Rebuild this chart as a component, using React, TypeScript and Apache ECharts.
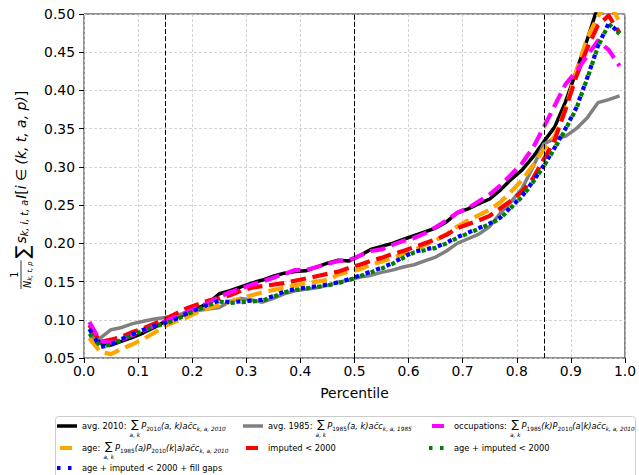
import React, { useEffect, useRef } from 'react';
import * as echarts from 'echarts';

const percentiles = [0.01, 0.03, 0.05, 0.07, 0.09, 0.11, 0.13, 0.15, 0.17, 0.19, 0.21, 0.23, 0.25, 0.27, 0.29, 0.31, 0.33, 0.35, 0.37, 0.39, 0.41, 0.43, 0.45, 0.47, 0.49, 0.51, 0.53, 0.55, 0.57, 0.59, 0.61, 0.63, 0.65, 0.67, 0.69, 0.71, 0.73, 0.75, 0.77, 0.79, 0.81, 0.83, 0.85, 0.87, 0.89, 0.91, 0.93, 0.95, 0.97, 0.99];

const avg2010 = [0.093, 0.070, 0.067, 0.072, 0.077, 0.083, 0.090, 0.098, 0.103, 0.108, 0.115, 0.122, 0.134, 0.138, 0.143, 0.148, 0.152, 0.157, 0.161, 0.163, 0.164, 0.169, 0.174, 0.178, 0.177, 0.184, 0.192, 0.196, 0.200, 0.205, 0.210, 0.215, 0.220, 0.228, 0.240, 0.245, 0.252, 0.258, 0.270, 0.284, 0.296, 0.313, 0.333, 0.352, 0.385, 0.425, 0.466, 0.510, 0.540, 0.560];
const avg1985 = [0.077, 0.076, 0.087, 0.090, 0.095, 0.098, 0.101, 0.103, 0.106, 0.109, 0.112, 0.114, 0.116, 0.124, 0.128, 0.126, 0.123, 0.128, 0.134, 0.138, 0.140, 0.142, 0.145, 0.149, 0.152, 0.156, 0.158, 0.162, 0.165, 0.169, 0.172, 0.177, 0.182, 0.190, 0.200, 0.206, 0.212, 0.222, 0.240, 0.255, 0.272, 0.300, 0.330, 0.337, 0.340, 0.350, 0.364, 0.384, 0.388, 0.393];
const occupations = [0.097, 0.072, 0.070, 0.074, 0.080, 0.086, 0.092, 0.098, 0.104, 0.110, 0.116, 0.122, 0.130, 0.136, 0.141, 0.146, 0.150, 0.155, 0.160, 0.165, 0.165, 0.169, 0.173, 0.177, 0.178, 0.184, 0.190, 0.192, 0.198, 0.203, 0.207, 0.213, 0.221, 0.230, 0.240, 0.246, 0.255, 0.264, 0.276, 0.290, 0.305, 0.325, 0.352, 0.380, 0.408, 0.425, 0.445, 0.465, 0.453, 0.432];
const age = [0.076, 0.058, 0.055, 0.062, 0.068, 0.075, 0.083, 0.092, 0.098, 0.103, 0.110, 0.115, 0.119, 0.124, 0.128, 0.132, 0.136, 0.139, 0.142, 0.145, 0.148, 0.150, 0.152, 0.159, 0.163, 0.166, 0.172, 0.176, 0.181, 0.186, 0.191, 0.198, 0.204, 0.212, 0.222, 0.230, 0.237, 0.244, 0.254, 0.268, 0.283, 0.302, 0.323, 0.340, 0.375, 0.425, 0.468, 0.497, 0.515, 0.490];
const imputed = [0.093, 0.071, 0.074, 0.078, 0.084, 0.089, 0.095, 0.101, 0.108, 0.115, 0.120, 0.125, 0.128, 0.132, 0.138, 0.142, 0.144, 0.146, 0.148, 0.151, 0.154, 0.157, 0.160, 0.163, 0.168, 0.172, 0.177, 0.181, 0.186, 0.190, 0.195, 0.200, 0.205, 0.211, 0.220, 0.225, 0.230, 0.236, 0.246, 0.256, 0.268, 0.285, 0.310, 0.335, 0.375, 0.418, 0.455, 0.485, 0.498, 0.475];
const ageImputed = [0.082, 0.066, 0.067, 0.074, 0.080, 0.086, 0.091, 0.095, 0.100, 0.107, 0.113, 0.119, 0.124, 0.122, 0.123, 0.124, 0.125, 0.130, 0.136, 0.139, 0.141, 0.143, 0.145, 0.148, 0.152, 0.157, 0.162, 0.167, 0.173, 0.181, 0.188, 0.191, 0.194, 0.200, 0.207, 0.213, 0.219, 0.225, 0.233, 0.247, 0.261, 0.280, 0.301, 0.324, 0.349, 0.376, 0.415, 0.457, 0.487, 0.474];
const ageImputedFill = [0.088, 0.064, 0.068, 0.075, 0.081, 0.087, 0.092, 0.096, 0.101, 0.108, 0.114, 0.120, 0.125, 0.123, 0.124, 0.125, 0.126, 0.131, 0.137, 0.140, 0.142, 0.144, 0.146, 0.149, 0.153, 0.158, 0.163, 0.168, 0.174, 0.182, 0.189, 0.192, 0.195, 0.201, 0.208, 0.214, 0.220, 0.226, 0.234, 0.248, 0.262, 0.281, 0.302, 0.325, 0.350, 0.377, 0.416, 0.458, 0.488, 0.475];

const markers = [0.15, 0.5, 0.85];
const xTicks = { min: 0, max: 1, interval: 0.1 };
const yTicks = { min: 0.05, max: 0.5, interval: 0.05 };

const FONT = '"DejaVu Sans", sans-serif';
const DASH = [15.4, 6.7];
const DOT = [4.2, 6.9];

let mctx: CanvasRenderingContext2D | null = null;
function measure(t: string, size: number, italic?: boolean) {
  if (!mctx) mctx = document.createElement('canvas').getContext('2d');
  mctx!.font = `${italic ? 'italic ' : ''}${size}px "DejaVu Sans"`;
  return mctx!.measureText(t).width;
}

type Seg = {
  t?: string; s?: number; dy?: number; it?: boolean; gap?: number; lh?: number;
  under?: { t: string; s: number; dy: number; it?: boolean };
  frac?: { num: Seg[]; den: Seg[]; numDy: number; denDy: number; barDy: number };
};

function textEl(t: string, x: number, y: number, s: number, it?: boolean, align = 'left', lh?: number) {
  return {
    type: 'text', x, y, silent: true,
    style: {
      text: t, fontSize: s, fontFamily: FONT, fontStyle: it ? 'italic' : 'normal', fill: '#000',
      lineHeight: lh || Math.round(s * 1.05),
      align, verticalAlign: 'middle', textAlign: align, textVerticalAlign: 'middle',
    },
  };
}

function buildRun(segs: Seg[], x0: number, y0: number): { els: any[]; w: number } {
  const els: any[] = [];
  let x = x0;
  for (const sg of segs) {
    if (sg.frac) {
      const n = buildRun(sg.frac.num, 0, 0);
      const d = buildRun(sg.frac.den, 0, 0);
      const w = Math.max(n.w, d.w) + 2;
      els.push(...buildRun(sg.frac.num, x + (w - n.w) / 2, y0 + sg.frac.numDy).els);
      els.push(...buildRun(sg.frac.den, x + (w - d.w) / 2, y0 + sg.frac.denDy).els);
      els.push({ type: 'line', silent: true, shape: { x1: x, y1: y0 + sg.frac.barDy, x2: x + w, y2: y0 + sg.frac.barDy }, style: { stroke: '#000', lineWidth: 0.8 } });
      x += w + (sg.gap || 0);
      continue;
    }
    let w = measure(sg.t!, sg.s!, sg.it);
    if (sg.under) {
      const uw = measure(sg.under.t, sg.under.s, sg.under.it);
      const W = Math.max(w, uw) + 1;
      els.push(textEl(sg.t!, x + (W - w) / 2, y0 + (sg.dy || 0), sg.s!, sg.it, 'left', sg.lh));
      els.push(textEl(sg.under.t, x + W / 2, y0 + sg.under.dy, sg.under.s, sg.under.it, 'center', 5));
      w = W;
    } else {
      els.push(textEl(sg.t!, x, y0 + (sg.dy || 0), sg.s!, sg.it, 'left', sg.lh));
    }
    x += w + (sg.gap || 0);
  }
  return { els, w: x - x0 };
}

// legend math pieces
const LN = 8.3, LS = 5.8, LSIG = 11;
const sum: Seg = { t: '∑', s: LSIG, dy: -1.5, gap: 0.5, lh: 9, under: { t: 'a, k', s: LS, dy: 9, it: true } };
const P = (sub: string, arg: string): Seg[] => [
  { t: 'P', s: LN, it: true }, { t: sub, s: LS, dy: 2.5 }, { t: arg, s: LN, it: true },
];
const acc = (sub: string): Seg[] => [{ t: 'ac̄c', s: LN, it: true }, { t: sub, s: LS, dy: 2.5, it: true }];
const plain = (t: string): Seg => ({ t, s: LN });

const legendItems = [
  { col: 0, row: 0, color: '#000000', dash: null, lw: 3.5, segs: [plain('avg. 2010: '), sum, ...P('2010', '(a, k)'), ...acc('k, a, 2010')] },
  { col: 0, row: 1, color: '#ffa500', dash: 'dash', lw: 4, segs: [plain('age: '), sum, ...P('1985', '(a)'), ...P('2010', '(k|a)'), ...acc('k, a, 2010')] },
  { col: 0, row: 2, color: '#0000ff', dash: 'dot', lw: 4, segs: [plain('age + imputed < 2000 + fill gaps')] },
  { col: 1, row: 0, color: '#808080', dash: null, lw: 3.5, segs: [plain('avg. 1985: '), sum, ...P('1985', '(a, k)'), ...acc('k, a, 1985')] },
  { col: 1, row: 1, color: '#ff0000', dash: 'dash', lw: 4, segs: [plain('imputed < 2000')] },
  { col: 2, row: 0, color: '#ff00ff', dash: 'dash', lw: 4, segs: [plain('occupations: '), sum, ...P('1985', '(k)'), ...P('2010', '(a|k)'), ...acc('k, a, 2010')] },
  { col: 2, row: 1, color: '#008000', dash: 'dot', lw: 4, segs: [plain('age + imputed < 2000')] },
];
const colX = [57, 243, 429];
const rowY = [426, 448, 468];

export default function App() {
  const ref = useRef<HTMLDivElement>(null);
  useEffect(() => {
    document.body.style.margin = '0';
    const chart = echarts.init(ref.current!, null, { renderer: 'svg' });

    const mk = (name: string, data: number[], color: string, kind: 'solid' | 'dash' | 'dot', z: number) => ({
      name, type: 'line', data: percentiles.map((p, i) => [p, data[i]]),
      showSymbol: false, symbol: 'none', z, clip: true,
      lineStyle: {
        color, width: kind === 'solid' ? 3.5 : 4.2,
        type: kind === 'solid' ? 'solid' : kind === 'dash' ? DASH : DOT, cap: 'butt', join: 'round',
      },
    });

    const g: any[] = [];
    g.push({ type: 'rect', z: 50, silent: true, shape: { x: 55.5, y: 416.5, width: 580, height: 70, r: 3 }, style: { fill: 'rgba(255,255,255,0.85)', stroke: '#cccccc', lineWidth: 1 } });
    legendItems.forEach((it) => {
      const sx = colX[it.col], y = rowY[it.row];
      let x1 = sx, x2 = sx + 20, dash: any = null;
      if (it.dash === 'dash') { x1 = sx + 3; x2 = sx + 15; }
      if (it.dash === 'dot') { x1 = sx; x2 = sx + 16; dash = [3.5, 7.5]; }
      g.push({ type: 'line', z: 51, silent: true, shape: { x1, y1: y, x2, y2: y }, style: { stroke: it.color, lineWidth: it.lw, lineDash: dash, lineCap: 'butt' } });
      const r = buildRun(it.segs, sx + 25, y);
      r.els.forEach((e) => { e.z = 51; g.push(e); });
    });

    const M = 13.9, S1 = 9.7, S2 = 6.8;
    const ySegs: Seg[] = [
      { frac: { num: [{ t: '1', s: S1 }], den: [{ t: 'N', s: S1, it: true }, { t: 'k, t, p', s: S2, dy: 2.5, it: true }], numDy: -6.5, denDy: 6.5, barDy: 0.5 }, gap: 2 },
      { t: '∑', s: 19, dy: 1, gap: 2 },
      { t: 's', s: M, it: true }, { t: 'k, i, t, a', s: S1, dy: 3.5, it: true, gap: 1 },
      { t: 'I', s: M, it: true }, { t: '[', s: M }, { t: 'i', s: M, it: true }, { t: ' ∈ ', s: M },
      { t: '(k, t, a, p)', s: M, it: true }, { t: ']', s: M },
    ];
    const yr = buildRun(ySegs, 0, 0);
    g.push({ type: 'group', x: 20.5, y: 190 + yr.w / 2, rotation: Math.PI / 2, children: yr.els });

    chart.setOption({
      animation: false,
      textStyle: { fontFamily: FONT },
      grid: { left: 84, right: 10, top: 14, bottom: 117, show: true, borderColor: '#222', borderWidth: 1, backgroundColor: 'transparent' },
      xAxis: {
        type: 'value', ...xTicks,
        name: 'Percentile', nameLocation: 'middle', nameGap: 28,
        nameTextStyle: { fontSize: 13.9, color: '#000', fontFamily: FONT },
        axisLine: { show: false },
        axisTick: { show: true, length: 5, lineStyle: { color: '#000', width: 1 } },
        axisLabel: { fontSize: 13.9, color: '#000', margin: 6, formatter: (v: number) => v.toFixed(1) },
        splitLine: { show: true, lineStyle: { color: '#c8c8c8', type: [3, 2], width: 0.8 } },
      },
      yAxis: {
        type: 'value', ...yTicks,
        axisLine: { show: false },
        axisTick: { show: true, length: 5, lineStyle: { color: '#000', width: 1 } },
        axisLabel: { fontSize: 13.9, color: '#000', margin: 9, formatter: (v: number) => v.toFixed(2) },
        splitLine: { show: true, lineStyle: { color: '#c8c8c8', type: [3, 2], width: 0.8 } },
      },
      series: [
        mk('avg. 2010', avg2010, '#000000', 'solid', 2),
        mk('avg. 1985', avg1985, '#808080', 'solid', 2),
        mk('age', age, '#ffa500', 'dash', 2),
        mk('imputed < 2000', imputed, '#ff0000', 'dash', 2),
        mk('occupations', occupations, '#ff00ff', 'dash', 2),
        mk('age + imputed < 2000', ageImputed, '#008000', 'dot', 2),
        mk('age + imputed < 2000 + fill gaps', ageImputedFill, '#0000ff', 'dot', 2),
        {
          name: 'markers', type: 'line', data: [], z: 5, silent: true,
          markLine: {
            silent: true, symbol: ['none', 'none'], label: { show: false },
            lineStyle: { color: '#000', type: [5, 2.2], width: 1 },
            data: markers.map((m) => ({ xAxis: m })),
          },
        },
      ],
      graphic: g,
    });
    return () => chart.dispose();
  }, []);
  return <div ref={ref} style={{ width: 639, height: 475 }} />;
}
